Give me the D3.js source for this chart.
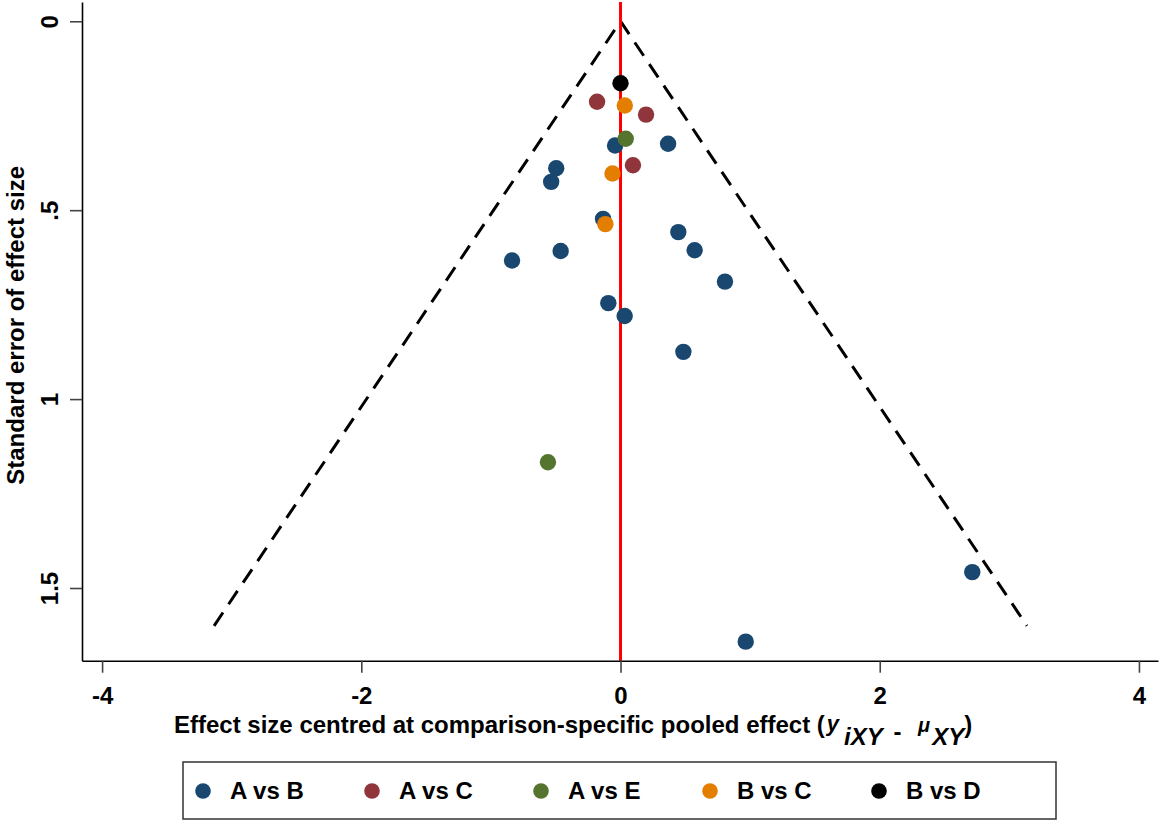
<!DOCTYPE html>
<html>
<head>
<meta charset="utf-8">
<script src="https://cdn.jsdelivr.net/npm/d3@7"></script>
<style>
  body { margin: 0; background: #fff; }
  svg { display: block; font-family: "Liberation Sans", Arial, Helvetica, sans-serif; font-weight: bold; }
</style>
</head>
<body>
<svg id="chart" width="1160" height="821"></svg>
<script>
// comparison groups and their colours
var groups = ["A vs B", "A vs C", "A vs E", "B vs C", "B vs D"];
var groupColors = ["#1a476f", "#90353b", "#55752f", "#e37e00", "#000000"];

// studies: group, centred effect, standard error
var studyGroup  = ["A vs B","A vs B","A vs B","A vs B","A vs B","A vs B","A vs B","A vs B","A vs B",
                   "A vs B","A vs B","A vs B","A vs B","A vs B","A vs B",
                   "A vs C","A vs C","A vs C",
                   "A vs E","A vs E",
                   "B vs C","B vs C","B vs C",
                   "B vs D"];
var studyEffect = [-0.042, 0.367, -0.496, -0.535, -0.135, 0.446, -0.462, 0.572, -0.837,
                   0.806, -0.094, 0.032, 0.485, 0.966, 2.714,
                   -0.181, 0.197, 0.096,
                   0.040, -0.560,
                   0.033, -0.062, -0.117,
                   0.000];
var studySE     = [0.329, 0.324, 0.389, 0.425, 0.523, 0.558, 0.608, 0.606, 0.633,
                   0.689, 0.746, 0.780, 0.875, 1.642, 1.458,
                   0.213, 0.247, 0.381,
                   0.311, 1.167,
                   0.223, 0.403, 0.537,
                   0.164];

// pseudo 95% confidence funnel
var funnelZ = 1.96;
var funnelMaxSE = 1.6;

var xTicks = [-4, -2, 0, 2, 4];
var yTicks = [0, 0.5, 1, 1.5];
var yTickLabels = ["0", ".5", "1", "1.5"];

var xDomain = [-4.155, 4.147];
var yDomain = [-0.051, 1.6924];

var svg = d3.select("#chart");
var W = 1160, H = 821;
var plot = { left: 82, right: 1158, top: 2, bottom: 660.7 };
var fontSize = 24;

var x = d3.scaleLinear().domain(xDomain).range([plot.left, plot.right]);
var y = d3.scaleLinear().domain(yDomain).range([plot.top, plot.bottom]);

svg.append("rect").attr("width", W).attr("height", H).attr("fill", "#fff");

// funnel
var funnelPts = [[-funnelZ * funnelMaxSE, funnelMaxSE], [0, 0], [funnelZ * funnelMaxSE, funnelMaxSE]];
var line = d3.line().x(function(d) { return x(d[0]); }).y(function(d) { return y(d[1]); });
svg.append("path")
    .datum(funnelPts)
    .attr("d", line)
    .attr("fill", "none")
    .attr("stroke", "#000")
    .attr("stroke-width", 3)
    .attr("stroke-dasharray", "16,10");

// zero line
svg.append("line")
    .attr("x1", x(0)).attr("x2", x(0))
    .attr("y1", plot.top).attr("y2", plot.bottom)
    .attr("stroke", "#ff0000")
    .attr("stroke-width", 3);

// axes
var xAxis = d3.axisBottom(x).tickValues(xTicks).tickSize(12).tickSizeOuter(0);
var gx = svg.append("g").attr("transform", "translate(0," + plot.bottom + ")").call(xAxis);
gx.select(".domain").attr("stroke", "#000").attr("stroke-width", 1.6);
gx.selectAll(".tick line").attr("stroke", "#444").attr("stroke-width", 1.6);
gx.selectAll(".tick text")
    .attr("y", 43)
    .attr("dy", 0)
    .attr("fill", "#000")
    .style("font-size", fontSize + "px")
    .style("font-weight", "bold")
    .style("font-family", "Liberation Sans, Arial, sans-serif")
    .text(function(d) { return d < 0 ? "-" + Math.abs(d) : d; });

var yAxis = d3.axisLeft(y).tickValues(yTicks).tickSize(12).tickSizeOuter(0)
    .tickFormat(function(d, i) { return yTickLabels[i]; });
var gy = svg.append("g").attr("transform", "translate(" + plot.left + ",0)").call(yAxis);
gy.select(".domain").attr("stroke", "#000").attr("stroke-width", 1.6);
gy.selectAll(".tick line").attr("stroke", "#444").attr("stroke-width", 1.6);
gy.selectAll(".tick text")
    .attr("x", 0).attr("y", 0).attr("dy", 0)
    .attr("transform", "translate(-24,0) rotate(-90)")
    .attr("text-anchor", "middle")
    .attr("fill", "#000")
    .style("font-size", fontSize + "px")
    .style("font-weight", "bold")
    .style("font-family", "Liberation Sans, Arial, sans-serif");

// points, drawn group by group
groups.forEach(function(g, gi) {
    var idx = d3.range(studyGroup.length).filter(function(i) { return studyGroup[i] === g; });
    svg.append("g").selectAll("circle")
        .data(idx)
        .enter().append("circle")
        .attr("cx", function(i) { return x(studyEffect[i]); })
        .attr("cy", function(i) { return y(studySE[i]); })
        .attr("r", 8.2)
        .attr("fill", groupColors[gi]);
});

// axis titles
svg.append("text")
    .attr("transform", "translate(24," + ((plot.top + plot.bottom) / 2 - 6) + ") rotate(-90)")
    .attr("text-anchor", "middle")
    .style("font-size", fontSize + "px")
    .text("Standard error of effect size");

var xt = svg.append("text")
    .attr("x", 174).attr("y", 733)
    .style("font-size", fontSize + "px");
xt.append("tspan").text("Effect size centred at comparison-specific pooled effect (");
xt.append("tspan").attr("font-style", "italic").attr("dx", 2).attr("dy", -2).style("font-size", "22px").text("y");
xt.append("tspan").attr("font-style", "italic").attr("dx", 5).attr("dy", 14).text("iXY");
xt.append("tspan").attr("dx", 4).attr("dy", -5).text(" - ");
xt.append("tspan").attr("font-style", "italic").attr("dx", 10).attr("dy", -8).style("font-size", "20px").text("\u03bc");
xt.append("tspan").attr("font-style", "italic").attr("dx", 2).attr("dy", 13).text("XY");
xt.append("tspan").attr("dy", -12).text(")");

// legend
var legend = svg.append("g");
legend.append("rect")
    .attr("x", 183).attr("y", 762)
    .attr("width", 873).attr("height", 57)
    .attr("fill", "#fff")
    .attr("stroke", "#333")
    .attr("stroke-width", 1.5);
var items = legend.selectAll("g.item")
    .data(groups)
    .enter().append("g")
    .attr("class", "item")
    .attr("transform", function(d, i) { return "translate(" + (203 + i * 169) + ",791)"; });
items.append("circle")
    .attr("r", 7.8)
    .attr("fill", function(d, i) { return groupColors[i]; });
items.append("text")
    .attr("x", 27).attr("y", 8)
    .style("font-size", fontSize + "px")
    .text(function(d) { return d; });
</script>
</body>
</html>
